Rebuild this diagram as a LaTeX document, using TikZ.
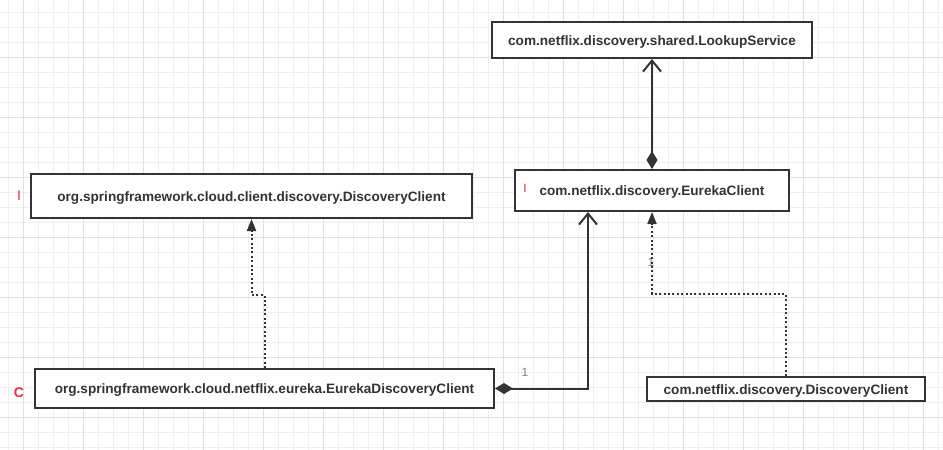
\documentclass[tikz,border=0pt]{standalone}
\usepackage{fontspec}
\setmainfont{Liberation Sans}
\usetikzlibrary{arrows.meta}
\definecolor{ink}{HTML}{333333}
\definecolor{gridminor}{HTML}{EEEEEE}
\definecolor{gridmajor}{HTML}{E0E0E0}
\definecolor{markred}{HTML}{E2323C}
\begin{document}
\begin{tikzpicture}[x=1pt, y=-1pt,
        cls/.style={draw=ink, line width=2pt, fill=white, inner sep=0pt, text=ink,
            text height=12pt, text depth=2pt,
            font=\bfseries\fontsize{13.6}{15}\selectfont},
        kind/.style={text=markred, inner sep=0pt, font=\fontsize{14}{16}\selectfont},
        assoc/.style={draw=ink, line width=2pt},
        dep/.style={draw=ink, line width=2pt, dash pattern=on 2pt off 2.4pt},
        mult/.style={text=gray, inner sep=0pt, font=\fontsize{12}{14}\selectfont}]
            \useasboundingbox (0, 0) rectangle (943, 450);
            \fill[white] (0, 0) rectangle (943, 450);
            % grid
            \foreach \gx in {8, 23, ..., 940}
                \draw[gridminor, line width=1pt] (\gx, 0) -- (\gx, 450);
            \foreach \gy in {12, 27, ..., 450}
                \draw[gridminor, line width=1pt] (0, \gy) -- (943, \gy);
            \foreach \gx in {23, 83, ..., 940}
                \draw[gridmajor, line width=1pt] (\gx, 0) -- (\gx, 450);
            \foreach \gy in {57, 117, ..., 450}
                \draw[gridmajor, line width=1pt] (0, \gy) -- (943, \gy);
            % classes
            \node[cls, minimum width=320pt, minimum height=36pt] (ls) at (652, 40) {com.netflix.discovery.shared.LookupService};
            \node[cls, minimum width=274pt, minimum height=41pt] (ec) at (652, 190.5) {com.netflix.discovery.EurekaClient};
            \node[cls, minimum width=441pt, minimum height=44pt] (sdc) at (251.5, 196) {org.springframework.cloud.client.discovery.DiscoveryClient};
            \node[cls, minimum width=459pt, minimum height=39pt] (edc) at (264.5, 388.5) {org.springframework.cloud.netflix.eureka.EurekaDiscoveryClient};
            \node[cls, minimum width=278pt, minimum height=24pt] (ndc) at (786, 389) {com.netflix.discovery.DiscoveryClient};
            \node[kind] (sdckind) at (19, 196) {I};
            \node[kind, font=\bfseries\fontsize{14}{16}\selectfont] (edckind) at (19, 393) {C};
            \node[kind, font=\fontsize{12}{14}\selectfont] (eckind) at (525, 188) {I};
            % multiplicities
            \node[mult] (m1) at (525, 372) {1};
            \node[mult] (m2) at (651, 262) {1};
            % connectors
            \coordinate (elbowb) at (588, 389);
            \coordinate (elbowc) at (264.5, 295);
            \coordinate (elbowd) at (786, 294);
            \draw[assoc, {Diamond[length=18pt, width=11pt]}-{Straight Barb[length=11pt, width=18pt]}] (ec.north) -- (ls.south);
            \draw[assoc, {Diamond[length=18pt, width=11pt]}-{Straight Barb[length=11pt, width=18pt]}] (edc.east) -| (ec.south -| elbowb);
            \draw[dep, -{Triangle[length=12pt, width=9pt]}] (edc.north) -- (elbowc) -| (sdc.south);
            \draw[dep, -{Triangle[length=12pt, width=9pt]}] (ndc.north) -- (elbowd) -| (ec.south);
        \end{tikzpicture}
\end{document}
